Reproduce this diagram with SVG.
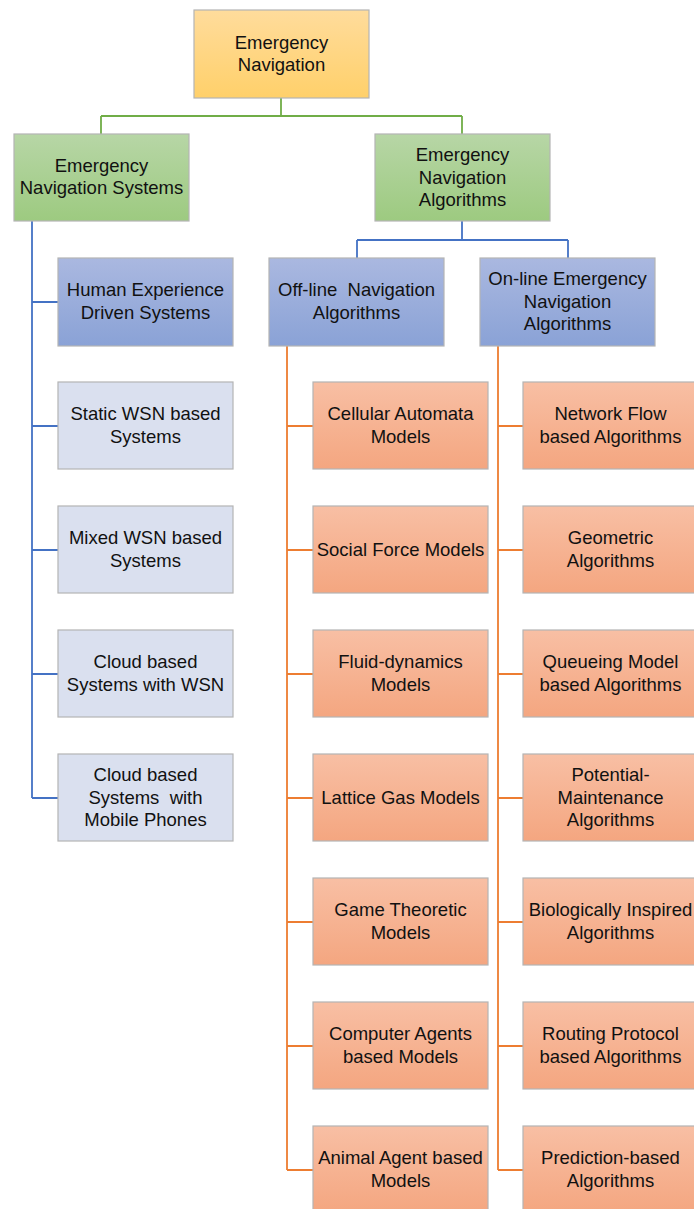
<svg xmlns="http://www.w3.org/2000/svg" width="694" height="1209" viewBox="0 0 694 1209">
<defs>
<linearGradient id="gGold" x1="0" y1="0" x2="0" y2="1"><stop offset="0" stop-color="#ffdc9c"/><stop offset="1" stop-color="#ffd06a"/></linearGradient>
<linearGradient id="gGreen" x1="0" y1="0" x2="0" y2="1"><stop offset="0" stop-color="#b7d6a6"/><stop offset="1" stop-color="#9dca80"/></linearGradient>
<linearGradient id="gBlue" x1="0" y1="0" x2="0" y2="1"><stop offset="0" stop-color="#aab8e0"/><stop offset="1" stop-color="#8aa2d6"/></linearGradient>
<linearGradient id="gOrange" x1="0" y1="0" x2="0" y2="1"><stop offset="0" stop-color="#f8bfa4"/><stop offset="1" stop-color="#f4a680"/></linearGradient>
</defs>
<style>
rect{stroke:#b4b4b4;stroke-width:1.2}
.gold{fill:url(#gGold)}
.green{fill:url(#gGreen)}
.blue{fill:url(#gBlue)}
.lblue{fill:#dae0ef}
.orange{fill:url(#gOrange)}
text{font-family:"Liberation Sans",Arial,sans-serif;font-size:18.5px;fill:#111;text-anchor:middle;white-space:pre}
.cg{fill:none;stroke:#70ad47;stroke-width:1.8}
.cb{fill:none;stroke:#4472c4;stroke-width:1.8}
.co{fill:none;stroke:#ed7d31;stroke-width:1.8}
</style>
<g id="connectors">
<path class="cg" d="M281,98 V116 M101,116 H462 M101,116 V134 M462,116 V134"/>
<path class="cb" d="M32,221 V798 M32,302 H58 M32,426 H58 M32,550 H58 M32,674 H58 M32,798 H58"/>
<path class="cb" d="M462,221 V240 M357,240 H568 M357,240 V258 M568,240 V258"/>
<path class="co" d="M287,346 V1170 M287,426 H313 M287,550 H313 M287,674 H313 M287,798 H313 M287,922 H313 M287,1046 H313 M287,1170 H313"/>
<path class="co" d="M498,346 V1170 M498,426 H523 M498,550 H523 M498,674 H523 M498,798 H523 M498,922 H523 M498,1046 H523 M498,1170 H523"/>
</g>
<g id="root"><rect class="gold" x="194" y="10" width="175" height="88"/><text x="281.5" y="49">Emergency</text><text x="281.5" y="71">Navigation</text></g>
<g id="systems"><rect class="green" x="14" y="134" width="175" height="87"/><text x="101.5" y="172">Emergency</text><text x="101.5" y="194">Navigation Systems</text></g>
<g id="algorithms"><rect class="green" x="375" y="134" width="175" height="87"/><text x="462.5" y="161">Emergency</text><text x="462.5" y="183.5">Navigation</text><text x="462.5" y="206">Algorithms</text></g>
<g id="human"><rect class="blue" x="58" y="258" width="175" height="88"/><text x="145.5" y="296">Human Experience</text><text x="145.5" y="318.5">Driven Systems</text></g>
<g id="static"><rect class="lblue" x="58" y="382" width="175" height="87"/><text x="145.5" y="420">Static WSN based</text><text x="145.5" y="442.5">Systems</text></g>
<g id="mixed"><rect class="lblue" x="58" y="506" width="175" height="87"/><text x="145.5" y="544">Mixed WSN based</text><text x="145.5" y="566.5">Systems</text></g>
<g id="cloudwsn"><rect class="lblue" x="58" y="630" width="175" height="87"/><text x="145.5" y="668">Cloud based</text><text x="145.5" y="690.5">Systems with WSN</text></g>
<g id="cloudphone"><rect class="lblue" x="58" y="754" width="175" height="87"/><text x="145.5" y="781">Cloud based</text><text x="145.5" y="803.5">Systems  with</text><text x="145.5" y="826">Mobile Phones</text></g>
<g id="offline"><rect class="blue" x="269" y="258" width="175" height="88"/><text x="356.5" y="296">Off-line  Navigation</text><text x="356.5" y="318.5">Algorithms</text></g>
<g id="online"><rect class="blue" x="480" y="258" width="175" height="88"/><text x="567.5" y="285">On-line Emergency</text><text x="567.5" y="307.5">Navigation</text><text x="567.5" y="330">Algorithms</text></g>
<g id="cellular"><rect class="orange" x="313" y="382" width="175" height="87"/><text x="400.5" y="420">Cellular Automata</text><text x="400.5" y="442.5">Models</text></g>
<g id="social"><rect class="orange" x="313" y="506" width="175" height="87"/><text x="400.5" y="556">Social Force Models</text></g>
<g id="fluid"><rect class="orange" x="313" y="630" width="175" height="87"/><text x="400.5" y="668">Fluid-dynamics</text><text x="400.5" y="690.5">Models</text></g>
<g id="lattice"><rect class="orange" x="313" y="754" width="175" height="87"/><text x="400.5" y="804">Lattice Gas Models</text></g>
<g id="game"><rect class="orange" x="313" y="878" width="175" height="87"/><text x="400.5" y="916">Game Theoretic</text><text x="400.5" y="938.5">Models</text></g>
<g id="computer"><rect class="orange" x="313" y="1002" width="175" height="87"/><text x="400.5" y="1040">Computer Agents</text><text x="400.5" y="1062.5">based Models</text></g>
<g id="animal"><rect class="orange" x="313" y="1126" width="175" height="87"/><text x="400.5" y="1164">Animal Agent based</text><text x="400.5" y="1186.5">Models</text></g>
<g id="netflow"><rect class="orange" x="523" y="382" width="175" height="87"/><text x="610.5" y="420">Network Flow</text><text x="610.5" y="442.5">based Algorithms</text></g>
<g id="geometric"><rect class="orange" x="523" y="506" width="175" height="87"/><text x="610.5" y="544">Geometric</text><text x="610.5" y="566.5">Algorithms</text></g>
<g id="queueing"><rect class="orange" x="523" y="630" width="175" height="87"/><text x="610.5" y="668">Queueing Model</text><text x="610.5" y="690.5">based Algorithms</text></g>
<g id="potential"><rect class="orange" x="523" y="754" width="175" height="87"/><text x="610.5" y="781">Potential-</text><text x="610.5" y="803.5">Maintenance</text><text x="610.5" y="826">Algorithms</text></g>
<g id="bio"><rect class="orange" x="523" y="878" width="175" height="87"/><text x="610.5" y="916">Biologically Inspired</text><text x="610.5" y="938.5">Algorithms</text></g>
<g id="routing"><rect class="orange" x="523" y="1002" width="175" height="87"/><text x="610.5" y="1040">Routing Protocol</text><text x="610.5" y="1062.5">based Algorithms</text></g>
<g id="prediction"><rect class="orange" x="523" y="1126" width="175" height="87"/><text x="610.5" y="1164">Prediction-based</text><text x="610.5" y="1186.5">Algorithms</text></g>
</svg>
